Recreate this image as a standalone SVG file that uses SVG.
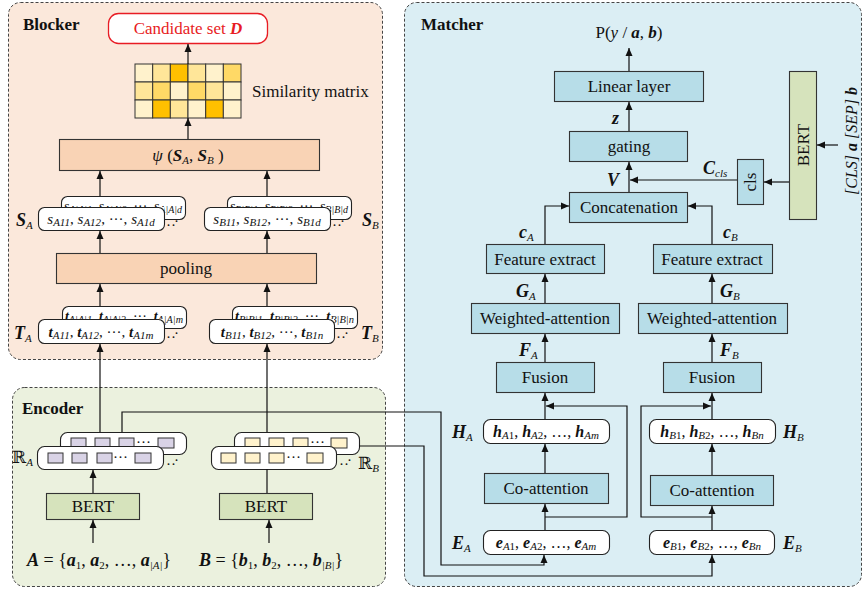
<svg xmlns="http://www.w3.org/2000/svg" width="865" height="592" viewBox="0 0 865 592" font-family="'Liberation Serif', 'Times New Roman', 'DejaVu Serif', serif">
<style>
text{font-family:"Liberation Serif","Times New Roman","DejaVu Serif",serif;fill:#111}
.t{font-size:17px}
.title{font-size:17px;font-weight:bold}
.s{font-size:15px}
.h{font-size:16px}
.lab{font-size:18px;font-weight:bold;font-style:italic}
.sub{font-size:11px}
.bi{font-weight:bold;font-style:italic}
.i{font-style:italic}
.n{font-weight:normal}
.panel{stroke:#444;stroke-width:1;stroke-dasharray:3,2}
.bx{stroke:#333;stroke-width:1.1}
.blue{fill:#b7dde8}
.peach{fill:#f9d3b5}
.green{fill:#d6e3bc}
.wb{fill:#fff;stroke:#222;stroke-width:1.1}
.sq{stroke:#333;stroke-width:1}
.c{fill:none;stroke:#111;stroke-width:1.2}
.ca{fill:none;stroke:#111;stroke-width:1.2;marker-end:url(#ah)}
</style>
<defs>
<marker id="ah" markerUnits="userSpaceOnUse" markerWidth="9" markerHeight="8" refX="8" refY="4" orient="auto">
<path d="M0,0.5 L8,4 L0,7.5 z" fill="#111"/>
</marker>
<clipPath id="clipSA"><rect x="61" y="196" width="125" height="11"/><rect x="164" y="196" width="22" height="24"/></clipPath>
<clipPath id="clipSB"><rect x="227" y="196" width="125" height="11"/><rect x="330" y="196" width="22" height="24"/></clipPath>
<clipPath id="clipTA"><rect x="62" y="306" width="125" height="13"/><rect x="164" y="306" width="23" height="23"/></clipPath>
<clipPath id="clipTB"><rect x="232" y="306" width="126" height="13"/><rect x="334" y="306" width="24" height="23"/></clipPath>
</defs>

<!-- panels -->
<g id="blocker-panel"><rect x="8.5" y="2.5" width="374" height="357" rx="12" fill="#fbe8db" class="panel"/><text x="23" y="30" class="title">Blocker</text></g>
<g id="encoder-panel"><rect x="12.5" y="387.5" width="373" height="199" rx="12" fill="#ebf1de" class="panel"/><text x="22" y="414" class="title">Encoder</text></g>
<g id="matcher-panel"><rect x="404.5" y="2.5" width="457" height="584" rx="12" fill="#dbeef4" class="panel"/><text x="421" y="30" class="title">Matcher</text></g>

<!-- Blocker -->
<g id="candidate"><rect x="108.5" y="13.5" width="159" height="30" rx="10" fill="#fff" stroke="#e81c24" stroke-width="1.3"/><text x="188" y="34" class="t" text-anchor="middle" style="fill:#e81c24">Candidate set <tspan class="bi" style="fill:#e81c24">D</tspan></text></g>
<g id="simmatrix" class="sq">
<rect x="135" y="64" width="17.7" height="18" fill="#fff2cc"/><rect x="152.7" y="64" width="17.7" height="18" fill="#ffe699"/><rect x="170.3" y="64" width="17.7" height="18" fill="#ffc000"/><rect x="188" y="64" width="17.7" height="18" fill="#ffe699"/><rect x="205.7" y="64" width="17.7" height="18" fill="#fff2cc"/><rect x="223.3" y="64" width="17.7" height="18" fill="#ffd966"/>
<rect x="135" y="82" width="17.7" height="18" fill="#ffe699"/><rect x="152.7" y="82" width="17.7" height="18" fill="#ffd966"/><rect x="170.3" y="82" width="17.7" height="18" fill="#fff2cc"/><rect x="188" y="82" width="17.7" height="18" fill="#ffd966"/><rect x="205.7" y="82" width="17.7" height="18" fill="#ffe699"/><rect x="223.3" y="82" width="17.7" height="18" fill="#fff2cc"/>
<rect x="135" y="100" width="17.7" height="18" fill="#fff2cc"/><rect x="152.7" y="100" width="17.7" height="18" fill="#ffc000"/><rect x="170.3" y="100" width="17.7" height="18" fill="#ffe699"/><rect x="188" y="100" width="17.7" height="18" fill="#fff2cc"/><rect x="205.7" y="100" width="17.7" height="18" fill="#ffc000"/><rect x="223.3" y="100" width="17.7" height="18" fill="#fff2cc"/>
</g>
<text x="252" y="97" class="t">Similarity matrix</text>
<g id="psi"><rect x="59.5" y="139.5" width="260" height="31" class="bx peach"/><text x="188" y="161" class="t" text-anchor="middle"><tspan class="i">ψ</tspan> (<tspan class="bi">S</tspan><tspan class="sub i" dy="3">A</tspan><tspan dy="-3">, </tspan><tspan class="bi">S</tspan><tspan class="sub i" dy="3">B</tspan><tspan dy="-3"> )</tspan></text></g>

<g id="SA">
<rect x="61.5" y="196.5" width="124" height="23" rx="6" class="wb"/>
<text x="64" y="211" class="s" clip-path="url(#clipSA)" textLength="118" lengthAdjust="spacingAndGlyphs"><tspan class="i">s</tspan><tspan class="sub i" dy="2">A|A|1</tspan><tspan dy="-2">, </tspan><tspan class="i">s</tspan><tspan class="sub i" dy="2">A|A|2</tspan><tspan dy="-2">, ···, </tspan><tspan class="i">s</tspan><tspan class="sub i" dy="2">A|A|d</tspan></text>
<rect x="38.5" y="207.5" width="126" height="23" rx="6" class="wb"/>
<text x="101" y="224" class="s" text-anchor="middle"><tspan class="i">s</tspan><tspan class="sub i" dy="2">A11</tspan><tspan dy="-2">, </tspan><tspan class="i">s</tspan><tspan class="sub i" dy="2">A12</tspan><tspan dy="-2">, ···, </tspan><tspan class="i">s</tspan><tspan class="sub i" dy="2">A1d</tspan></text>
<text x="166" y="230" class="s">··</text><text x="174" y="226" class="s">·</text>
<text x="16" y="226" class="lab">S<tspan class="sub n" dy="3">A</tspan></text>
</g>
<g id="SB">
<rect x="227.5" y="196.5" width="124" height="23" rx="6" class="wb"/>
<text x="230" y="211" class="s" clip-path="url(#clipSB)" textLength="118" lengthAdjust="spacingAndGlyphs"><tspan class="i">s</tspan><tspan class="sub i" dy="2">B|B|1</tspan><tspan dy="-2">, </tspan><tspan class="i">s</tspan><tspan class="sub i" dy="2">B|B|2</tspan><tspan dy="-2">, ···, </tspan><tspan class="i">s</tspan><tspan class="sub i" dy="2">B|B|d</tspan></text>
<rect x="204.5" y="207.5" width="126" height="23" rx="6" class="wb"/>
<text x="267" y="224" class="s" text-anchor="middle"><tspan class="i">s</tspan><tspan class="sub i" dy="2">B11</tspan><tspan dy="-2">, </tspan><tspan class="i">s</tspan><tspan class="sub i" dy="2">B12</tspan><tspan dy="-2">, ···, </tspan><tspan class="i">s</tspan><tspan class="sub i" dy="2">B1d</tspan></text>
<text x="332" y="230" class="s">··</text><text x="340" y="226" class="s">·</text>
<text x="362" y="226" class="lab">S<tspan class="sub n" dy="3">B</tspan></text>
</g>
<g id="pooling"><rect x="56.5" y="253.5" width="260" height="30" class="bx peach"/><text x="186" y="274" class="t" text-anchor="middle">pooling</text></g>

<g id="TA">
<rect x="62.5" y="306.5" width="124" height="22" rx="6" class="wb"/>
<text x="65" y="321" class="s" clip-path="url(#clipTA)" textLength="118" lengthAdjust="spacingAndGlyphs"><tspan class="bi">t</tspan><tspan class="sub i" dy="2">A|A|1</tspan><tspan dy="-2">, </tspan><tspan class="bi">t</tspan><tspan class="sub i" dy="2">A|A|2</tspan><tspan dy="-2">, ···, </tspan><tspan class="bi">t</tspan><tspan class="sub i" dy="2">A|A|m</tspan></text>
<rect x="38.5" y="319.5" width="126" height="24" rx="6" class="wb"/>
<text x="101" y="337" class="s" text-anchor="middle"><tspan class="bi">t</tspan><tspan class="sub i" dy="2">A11</tspan><tspan dy="-2">, </tspan><tspan class="bi">t</tspan><tspan class="sub i" dy="2">A12</tspan><tspan dy="-2">, ···, </tspan><tspan class="bi">t</tspan><tspan class="sub i" dy="2">A1m</tspan></text>
<text x="166" y="342" class="s">··</text><text x="174" y="338" class="s">·</text>
<text x="14" y="339" class="lab">T<tspan class="sub n" dy="3">A</tspan></text>
</g>
<g id="TB">
<rect x="232.5" y="306.5" width="125" height="22" rx="6" class="wb"/>
<text x="235" y="321" class="s" clip-path="url(#clipTB)" textLength="119" lengthAdjust="spacingAndGlyphs"><tspan class="bi">t</tspan><tspan class="sub i" dy="2">B|B|1</tspan><tspan dy="-2">, </tspan><tspan class="bi">t</tspan><tspan class="sub i" dy="2">B|B|2</tspan><tspan dy="-2">, ···, </tspan><tspan class="bi">t</tspan><tspan class="sub i" dy="2">B|B|n</tspan></text>
<rect x="209.5" y="319.5" width="125" height="24" rx="6" class="wb"/>
<text x="272" y="337" class="s" text-anchor="middle"><tspan class="bi">t</tspan><tspan class="sub i" dy="2">B11</tspan><tspan dy="-2">, </tspan><tspan class="bi">t</tspan><tspan class="sub i" dy="2">B12</tspan><tspan dy="-2">, ···, </tspan><tspan class="bi">t</tspan><tspan class="sub i" dy="2">B1n</tspan></text>
<text x="336" y="342" class="s">··</text><text x="344" y="338" class="s">·</text>
<text x="361" y="339" class="lab">T<tspan class="sub n" dy="3">B</tspan></text>
</g>

<!-- Encoder -->
<g id="RA">
<rect x="60.5" y="432.5" width="126" height="22" rx="7" class="wb"/>
<rect x="71" y="438" width="15" height="10" fill="#d9d3e6" class="sq"/><rect x="95" y="438" width="15" height="10" fill="#d9d3e6" class="sq"/><rect x="119" y="438" width="15" height="10" fill="#d9d3e6" class="sq"/><text x="136" y="447" class="s">···</text><rect x="158" y="438" width="16" height="10" fill="#d9d3e6" class="sq"/>
<rect x="37.5" y="446.5" width="126" height="23" rx="7" class="wb"/>
<rect x="48" y="453" width="15" height="10" fill="#d9d3e6" class="sq"/><rect x="72" y="453" width="15" height="10" fill="#d9d3e6" class="sq"/><rect x="97" y="453" width="15" height="10" fill="#d9d3e6" class="sq"/><text x="113" y="462" class="s">···</text><rect x="135" y="453" width="16" height="10" fill="#d9d3e6" class="sq"/>
<text x="166" y="469" class="s">··</text><text x="174" y="465" class="s">·</text>
<text x="12" y="463" style="font-size:17px">ℝ<tspan class="sub i" dy="3">A</tspan></text>
</g>
<g id="RB">
<rect x="234.5" y="432.5" width="125" height="22" rx="7" class="wb"/>
<rect x="245" y="438" width="15" height="10" fill="#fff2cc" class="sq"/><rect x="269" y="438" width="15" height="10" fill="#fff2cc" class="sq"/><rect x="293" y="438" width="15" height="10" fill="#fff2cc" class="sq"/><text x="310" y="447" class="s">···</text><rect x="331" y="438" width="16" height="10" fill="#fff2cc" class="sq"/>
<rect x="211.5" y="446.5" width="125" height="23" rx="7" class="wb"/>
<rect x="221" y="453" width="15" height="10" fill="#fff2cc" class="sq"/><rect x="245" y="453" width="15" height="10" fill="#fff2cc" class="sq"/><rect x="269" y="453" width="15" height="10" fill="#fff2cc" class="sq"/><text x="286" y="462" class="s">···</text><rect x="307" y="453" width="16" height="10" fill="#fff2cc" class="sq"/>
<text x="339" y="469" class="s">··</text><text x="347" y="465" class="s">·</text>
<text x="358" y="469" style="font-size:17px">ℝ<tspan class="sub i" dy="3">B</tspan></text>
</g>
<g id="bertA"><rect x="46.5" y="493.5" width="93" height="26" class="bx green"/><text x="93" y="512" class="t" text-anchor="middle">BERT</text></g>
<g id="bertB"><rect x="219.5" y="493.5" width="93" height="26" class="bx green"/><text x="266" y="512" class="t" text-anchor="middle">BERT</text></g>
<text x="27" y="566" style="font-size:18px"><tspan class="bi">A</tspan> = {<tspan class="bi">a</tspan><tspan class="sub" dy="3">1</tspan><tspan dy="-3">, </tspan><tspan class="bi">a</tspan><tspan class="sub" dy="3">2</tspan><tspan dy="-3">, …, </tspan><tspan class="bi">a</tspan><tspan class="sub i" dy="3">|A|</tspan><tspan dy="-3">}</tspan></text>
<text x="199" y="566" style="font-size:18px"><tspan class="bi">B</tspan> = {<tspan class="bi">b</tspan><tspan class="sub" dy="3">1</tspan><tspan dy="-3">, </tspan><tspan class="bi">b</tspan><tspan class="sub" dy="3">2</tspan><tspan dy="-3">, …, </tspan><tspan class="bi">b</tspan><tspan class="sub i" dy="3">|B|</tspan><tspan dy="-3">}</tspan></text>

<!-- Matcher -->
<text x="629" y="38" class="t" text-anchor="middle">P(<tspan class="i">y</tspan> / <tspan class="bi">a</tspan>, <tspan class="bi">b</tspan>)</text>
<g id="linear"><rect x="554.5" y="71.5" width="149" height="30" class="bx blue"/><text x="629" y="92" class="t" text-anchor="middle">Linear layer</text></g>
<g id="gating"><rect x="569.5" y="131.5" width="118" height="30" class="bx blue"/><text x="629" y="152" class="t" text-anchor="middle">gating</text></g>
<text x="612" y="124" class="lab">z</text>
<g id="concat"><rect x="569.5" y="192.5" width="118" height="30" class="bx blue"/><text x="629" y="213" class="t" text-anchor="middle">Concatenation</text></g>
<text x="607" y="186" class="lab">V</text>
<g id="cls"><rect x="737.5" y="159.5" width="26" height="45" class="bx blue"/><text transform="translate(756,182) rotate(-90)" class="t" text-anchor="middle">cls</text></g>
<text x="703" y="174" class="lab">C<tspan class="sub i n" dy="3">cls</tspan></text>
<g id="bertM"><rect x="789.5" y="71.5" width="27" height="148" class="bx green"/><text transform="translate(809,145) rotate(-90)" class="t" text-anchor="middle">BERT</text></g>
<text transform="translate(857,141) rotate(-90)" style="font-size:16px" text-anchor="middle"><tspan class="i">[CLS]</tspan> <tspan class="bi">a</tspan> <tspan class="i">[SEP]</tspan> <tspan class="bi">b</tspan></text>

<g id="feA"><rect x="486.5" y="244.5" width="118" height="29" class="bx blue"/><text x="545" y="265" class="t" text-anchor="middle">Feature extract</text></g>
<g id="feB"><rect x="653.5" y="244.5" width="119" height="29" class="bx blue"/><text x="712" y="265" class="t" text-anchor="middle">Feature extract</text></g>
<text x="519" y="238" class="lab">c<tspan class="sub i n" dy="3">A</tspan></text>
<text x="723" y="238" class="lab">c<tspan class="sub i n" dy="3">B</tspan></text>
<g id="waA"><rect x="471.5" y="303.5" width="148" height="30" class="bx blue"/><text x="545" y="324" class="t" text-anchor="middle">Weighted-attention</text></g>
<g id="waB"><rect x="638.5" y="303.5" width="149" height="30" class="bx blue"/><text x="712" y="324" class="t" text-anchor="middle">Weighted-attention</text></g>
<text x="516" y="297" class="lab">G<tspan class="sub i n" dy="3">A</tspan></text>
<text x="720" y="297" class="lab">G<tspan class="sub i n" dy="3">B</tspan></text>
<g id="fuA"><rect x="496.5" y="362.5" width="98" height="30" class="bx blue"/><text x="545" y="383" class="t" text-anchor="middle">Fusion</text></g>
<g id="fuB"><rect x="663.5" y="362.5" width="98" height="30" class="bx blue"/><text x="712" y="383" class="t" text-anchor="middle">Fusion</text></g>
<text x="519" y="356" class="lab">F<tspan class="sub i n" dy="3">A</tspan></text>
<text x="720" y="356" class="lab">F<tspan class="sub i n" dy="3">B</tspan></text>

<g id="HA"><rect x="483.5" y="419.5" width="126" height="24" rx="7" class="wb"/><text x="546" y="437" class="h" text-anchor="middle"><tspan class="bi">h</tspan><tspan class="sub i" dy="2">A</tspan><tspan class="sub">1</tspan><tspan dy="-2">, </tspan><tspan class="bi">h</tspan><tspan class="sub i" dy="2">A</tspan><tspan class="sub">2</tspan><tspan dy="-2">, …, </tspan><tspan class="bi">h</tspan><tspan class="sub i" dy="2">Am</tspan></text></g>
<text x="452" y="438" class="lab">H<tspan class="sub i n" dy="3">A</tspan></text>
<g id="HB"><rect x="649.5" y="419.5" width="126" height="24" rx="7" class="wb"/><text x="712" y="437" class="h" text-anchor="middle"><tspan class="bi">h</tspan><tspan class="sub i" dy="2">B</tspan><tspan class="sub">1</tspan><tspan dy="-2">, </tspan><tspan class="bi">h</tspan><tspan class="sub i" dy="2">B</tspan><tspan class="sub">2</tspan><tspan dy="-2">, …, </tspan><tspan class="bi">h</tspan><tspan class="sub i" dy="2">Bn</tspan></text></g>
<text x="783" y="438" class="lab">H<tspan class="sub i n" dy="3">B</tspan></text>
<g id="coA"><rect x="484.5" y="473.5" width="124" height="30" class="bx blue"/><text x="546" y="494" class="t" text-anchor="middle">Co-attention</text></g>
<g id="coB"><rect x="650.5" y="475.5" width="123" height="30" class="bx blue"/><text x="712" y="496" class="t" text-anchor="middle">Co-attention</text></g>
<g id="EA"><rect x="483.5" y="530.5" width="126" height="24" rx="7" class="wb"/><text x="546" y="548" class="h" text-anchor="middle"><tspan class="bi">e</tspan><tspan class="sub i" dy="2">A</tspan><tspan class="sub">1</tspan><tspan dy="-2">, </tspan><tspan class="bi">e</tspan><tspan class="sub i" dy="2">A</tspan><tspan class="sub">2</tspan><tspan dy="-2">, …, </tspan><tspan class="bi">e</tspan><tspan class="sub i" dy="2">Am</tspan></text></g>
<text x="452" y="549" class="lab">E<tspan class="sub i n" dy="3">A</tspan></text>
<g id="EB"><rect x="649.5" y="530.5" width="125" height="24" rx="7" class="wb"/><text x="712" y="548" class="h" text-anchor="middle"><tspan class="bi">e</tspan><tspan class="sub i" dy="2">B</tspan><tspan class="sub">1</tspan><tspan dy="-2">, </tspan><tspan class="bi">e</tspan><tspan class="sub i" dy="2">B</tspan><tspan class="sub">2</tspan><tspan dy="-2">, …, </tspan><tspan class="bi">e</tspan><tspan class="sub i" dy="2">Bn</tspan></text></g>
<text x="783" y="549" class="lab">E<tspan class="sub i n" dy="3">B</tspan></text>

<!-- connectors -->
<g id="connectors">
<path class="ca" d="M188,64 V44"/>
<path class="ca" d="M188,139 V118"/>
<path class="ca" d="M100,196 V171"/>
<path class="ca" d="M267,196 V171"/>
<path class="ca" d="M100,253 V231"/>
<path class="ca" d="M267,253 V231"/>
<path class="ca" d="M100,306 V284"/>
<path class="ca" d="M267,306 V284"/>
<path class="ca" d="M100,432 V344"/>
<path class="ca" d="M267,432 V344"/>
<path class="ca" d="M93,493 V470"/>
<path class="c" d="M267,469 V493"/>
<path class="ca" d="M93,543 V520"/>
<path class="ca" d="M269,543 V520"/>
<path class="ca" d="M122,432 V412 H441 V565 H544 V555"/>
<path class="ca" d="M359,446 H424 V576 H712 V555"/>
<path class="ca" d="M629,71 V48"/>
<path class="ca" d="M629,131 V102"/>
<path class="ca" d="M629,192 V162"/>
<path class="ca" d="M737,180 H630"/>
<path class="ca" d="M789,182 H764"/>
<path class="ca" d="M838,145 H817"/>
<path class="ca" d="M545,244 V206 H569"/>
<path class="ca" d="M712,244 V206 H688"/>
<path class="ca" d="M545,303 V274"/>
<path class="ca" d="M712,303 V274"/>
<path class="ca" d="M545,362 V334"/>
<path class="ca" d="M712,362 V334"/>
<path class="ca" d="M545,419 V393"/>
<path class="ca" d="M712,419 V393"/>
<path class="ca" d="M545,473 V444"/>
<path class="ca" d="M712,475 V444"/>
<path class="ca" d="M545,530 V504"/>
<path class="ca" d="M712,530 V506"/>
<path class="ca" d="M545,517 H627 V406 H546"/>
<path class="ca" d="M712,517 H641 V406 H711"/>
</g>
</svg>
